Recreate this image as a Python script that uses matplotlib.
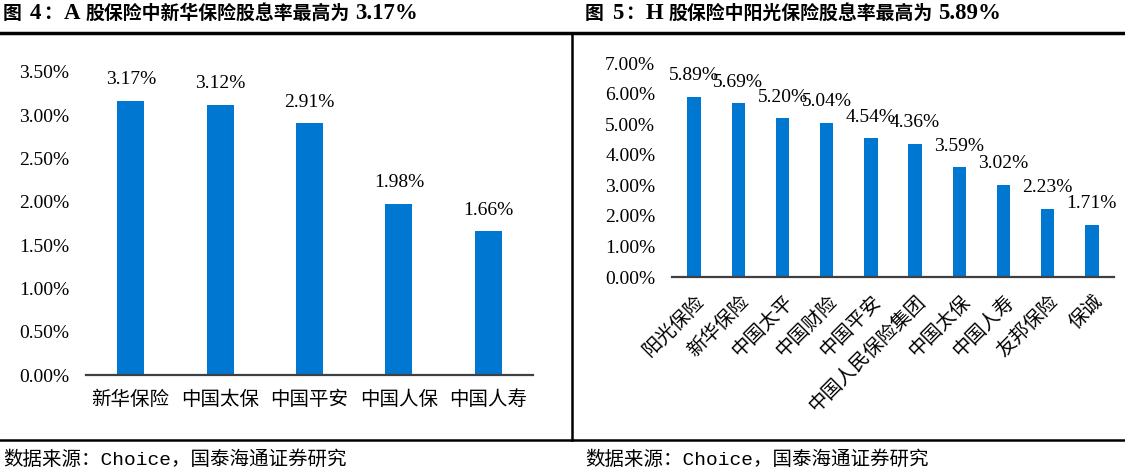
import matplotlib
matplotlib.use("Agg")
import matplotlib.pyplot as plt
from matplotlib.lines import Line2D

plt.rcParams['font.family'] = ['Liberation Serif', 'Noto Sans CJK SC', 'DejaVu Sans']

# data
a_names = ["新华保险", "中国太保", "中国平安", "中国人保", "中国人寿"]
a_yield = [3.17, 3.12, 2.91, 1.98, 1.66]
h_names = ["阳光保险", "新华保险", "中国太平", "中国财险", "中国平安",
           "中国人民保险集团", "中国太保", "中国人寿", "友邦保险", "保诚"]
h_yield = [5.89, 5.69, 5.20, 5.04, 4.54, 4.36, 3.59, 3.02, 2.23, 1.71]

title_a = ["图", "4", "：", "A", "股保险中新华保险股息率最高为", "3.17%"]
title_h = ["图", "5", "：", "H", "股保险中阳光保险股息率最高为", "5.89%"]
source = "数据来源：Choice，国泰海通证券研究"

bar_color = "#0077D0"
serif = ['Liberation Serif', 'Noto Sans CJK SC']
cjk = ['Noto Sans CJK SC']
W, H = 1125, 475


def draw(ax, names, vals, ymax, step, rot):
    x = range(len(vals))
    ax.bar(x, vals, width=0.3, color=bar_color, zorder=2)
    for i, v in enumerate(vals):
        ax.annotate(f"{v:.2f}%", (i, v), xytext=(0, 9), textcoords="offset points",
                    ha="center", va="bottom", fontsize=14, family=serif)
    ax.set_xlim(-0.5, len(vals) - 0.5)
    ax.set_ylim(0, ymax)
    ticks = [k * step for k in range(int(round(ymax / step)) + 1)]
    ax.set_yticks(ticks)
    ax.set_yticklabels([f"{t:.2f}%" for t in ticks], fontsize=14, family=serif)
    ax.set_xticks(list(x))
    if rot:
        ax.set_xticklabels(names, fontsize=14, family=cjk,
                           rotation=45, ha="right", rotation_mode="anchor")
    else:
        ax.set_xticklabels(names, fontsize=14, family=cjk)
    ax.tick_params(axis="y", length=0, pad=12)
    ax.tick_params(axis="x", length=0, pad=10)
    for s in ("top", "right", "left"):
        ax.spines[s].set_visible(False)
    ax.spines["bottom"].set_color("#404040")
    ax.spines["bottom"].set_linewidth(1.6)


def title(fig, x_px, parts):
    # CJK pieces and latin pieces (bold serif) set one after another
    r = fig.canvas.get_renderer()
    gaps = [8, 2, 2, 5, 5, 0]
    y = 1 - 19 / H
    x = x_px
    for i, s in enumerate(parts):
        latin = i in (1, 3, 5)
        t = fig.text(x / W, y, s, fontsize=16.5 if latin else 13.6, fontweight="bold",
                     family=['Liberation Serif'] if latin else cjk, va="baseline")
        bb = t.get_window_extent(r)
        x = bb.x1 + gaps[i]


fig = plt.figure(figsize=(11.25, 4.75), dpi=100)

ax1 = fig.add_axes([86 / W, 1 - 375 / H, (533 - 86) / W, (375 - 72) / H])
draw(ax1, a_names, a_yield, 3.5, 0.5, False)

ax2 = fig.add_axes([672 / W, 1 - 277 / H, (1114 - 672) / W, (277 - 63) / H])
draw(ax2, h_names, h_yield, 7.0, 1.0, True)

title(fig, 3, title_a)
title(fig, 585, title_h)

for xs in (3, 585):
    fig.text(xs / W, 1 - 460 / H, source, fontsize=14, va="center",
             family=['Liberation Mono', 'Noto Sans CJK SC'])

y_top = 1 - 33 / H
y_bot = 1 - 440 / H
fig.add_artist(Line2D([0, 1], [y_top, y_top], color="black", lw=2.5, transform=fig.transFigure))
fig.add_artist(Line2D([0, 1], [y_bot, y_bot], color="black", lw=1.8, transform=fig.transFigure))
fig.add_artist(Line2D([572 / W] * 2, [y_bot, y_top], color="black", lw=1.8, transform=fig.transFigure))

fig.savefig("out.png", dpi=100)
